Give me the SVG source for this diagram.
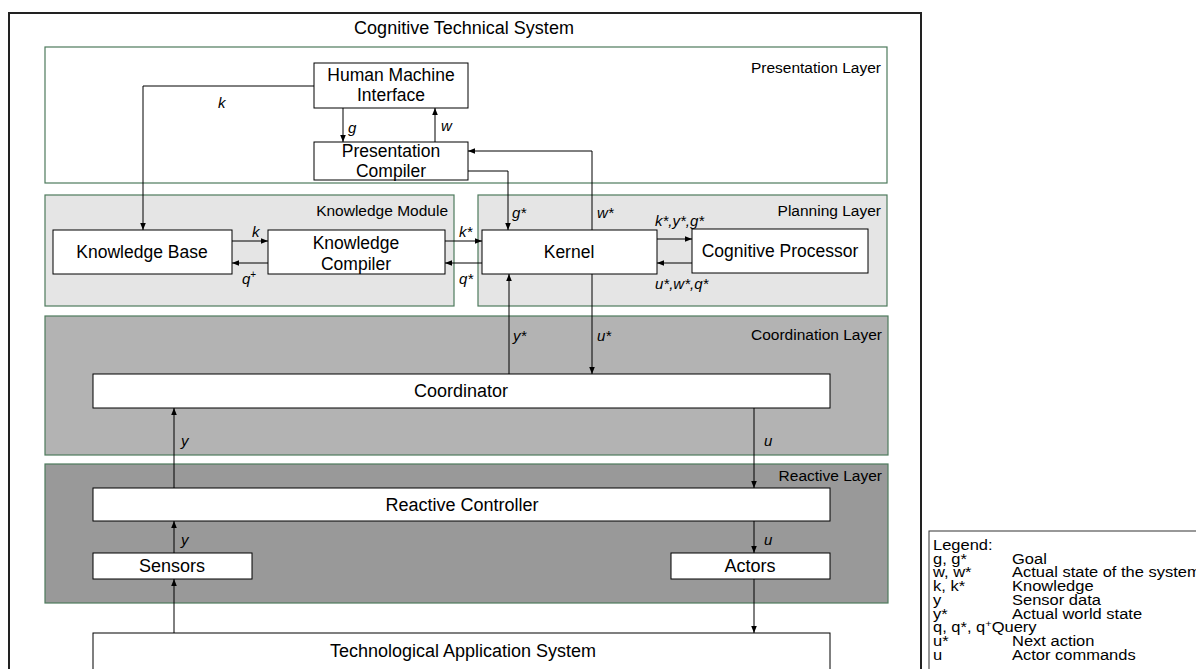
<svg xmlns="http://www.w3.org/2000/svg" width="1196" height="669" viewBox="0 0 1196 669">
<style>
text{font-family:"Liberation Sans",Arial,sans-serif;fill:#000}
.t{font-size:17.5px;text-anchor:middle}
.tl{font-size:18px;text-anchor:middle}
.lay{font-size:15.5px;text-anchor:end}
.v{font-size:15px;font-style:italic}
.box{fill:#fff;stroke:#000;stroke-width:1}
.layer{stroke:#4d7a5c;stroke-width:1.2}
.c{fill:none;stroke:#000;stroke-width:1;marker-end:url(#ah)}
.lg{font-size:16.5px}
</style>
<defs>
<marker id="ah" viewBox="0 0 10 10" refX="10" refY="5" markerWidth="7" markerHeight="7" markerUnits="userSpaceOnUse" orient="auto">
<path d="M0,1 L10,5 L0,9 z" fill="#000"/>
</marker>
</defs>
<rect width="1196" height="669" fill="#fff"/>
<g id="frame">
<rect x="9" y="13" width="912" height="670" fill="#fff" stroke="#222" stroke-width="2"/>
<text x="464" y="34" style="font-size:18px;text-anchor:middle">Cognitive Technical System</text>
</g>
<g id="presentation-layer">
<rect class="layer" x="45" y="47" width="842" height="136" fill="#fff"/>
<text class="lay" x="881" y="73">Presentation Layer</text>
</g>
<g id="knowledge-module">
<rect class="layer" x="45" y="195" width="409" height="111" fill="#e5e5e5"/>
<text class="lay" x="448" y="216">Knowledge Module</text>
</g>
<g id="planning-layer">
<rect class="layer" x="478" y="195" width="409" height="111" fill="#e5e5e5"/>
<text class="lay" x="881" y="216">Planning Layer</text>
</g>
<g id="coordination-layer">
<rect class="layer" x="45" y="316" width="843" height="139" fill="#b3b3b3"/>
<text class="lay" x="882" y="340">Coordination Layer</text>
</g>
<g id="reactive-layer">
<rect class="layer" x="45" y="464" width="843" height="139" fill="#999"/>
<text class="lay" x="882" y="481">Reactive Layer</text>
</g>
<g id="hmi">
<rect class="box" x="314" y="63" width="154" height="45"/>
<text class="t" x="391" y="81">Human Machine</text>
<text class="t" x="391" y="101">Interface</text>
</g>
<g id="presentation-compiler">
<rect class="box" x="314" y="142" width="154" height="38"/>
<text class="t" x="391" y="157">Presentation</text>
<text class="t" x="391" y="177">Compiler</text>
</g>
<g id="knowledge-base">
<rect class="box" x="53" y="230" width="179" height="44"/>
<text class="t" x="142" y="258">Knowledge Base</text>
</g>
<g id="knowledge-compiler">
<rect class="box" x="268" y="230" width="177" height="44"/>
<text class="t" x="356" y="249">Knowledge</text>
<text class="t" x="356" y="270">Compiler</text>
</g>
<g id="kernel">
<rect class="box" x="482" y="230" width="175" height="44"/>
<text class="t" x="569" y="258">Kernel</text>
</g>
<g id="cognitive-processor">
<rect class="box" x="692" y="229" width="176" height="44"/>
<text class="t" x="780" y="257">Cognitive Processor</text>
</g>
<g id="coordinator">
<rect class="box" x="93" y="374" width="737" height="34"/>
<text class="tl" x="461" y="397">Coordinator</text>
</g>
<g id="reactive-controller">
<rect class="box" x="93" y="488" width="737" height="33"/>
<text class="tl" x="462" y="511">Reactive Controller</text>
</g>
<g id="sensors">
<rect class="box" x="93" y="553" width="159" height="26"/>
<text class="tl" x="172" y="572">Sensors</text>
</g>
<g id="actors">
<rect class="box" x="671" y="553" width="159" height="26"/>
<text class="tl" x="750" y="572">Actors</text>
</g>
<g id="technological-application-system">
<rect class="box" x="93" y="633" width="737" height="50"/>
<text class="tl" x="463" y="657">Technological Application System</text>
</g>
<g id="connectors">
<path class="c" d="M314,86 H143 V230"/>
<path class="c" d="M343,108 V142"/>
<path class="c" d="M435,142 V108"/>
<path class="c" d="M592,230 V151 H468"/>
<path class="c" d="M468,171 H508 V230"/>
<path class="c" d="M232,241 H268"/>
<path class="c" d="M268,263 H232"/>
<path class="c" d="M445,241 H482"/>
<path class="c" d="M482,263 H445"/>
<path class="c" d="M657,239 H692"/>
<path class="c" d="M692,263 H657"/>
<path class="c" d="M509,374 V274"/>
<path class="c" d="M592,274 V374"/>
<path class="c" d="M174,488 V408"/>
<path class="c" d="M754,408 V488"/>
<path class="c" d="M174,553 V521"/>
<path class="c" d="M754,521 V553"/>
<path class="c" d="M174,633 V579"/>
<path class="c" d="M754,579 V633"/>
<text class="v" x="218" y="108">k</text>
<text class="v" x="348" y="133">g</text>
<text class="v" x="441" y="131">w</text>
<text class="v" x="512" y="218">g*</text>
<text class="v" x="597" y="218">w*</text>
<text class="v" x="252" y="237">k</text>
<text class="v" x="242" y="284">q<tspan dy="-6" font-size="10" font-style="normal">+</tspan></text>
<text class="v" x="459" y="237">k*</text>
<text class="v" x="459" y="284">q*</text>
<text class="v" x="655" y="226">k*,y*,g*</text>
<text class="v" x="655" y="289">u*,w*,q*</text>
<text class="v" x="513" y="341">y*</text>
<text class="v" x="597" y="341">u*</text>
<text class="v" x="181" y="446">y</text>
<text class="v" x="764" y="446">u</text>
<text class="v" x="181" y="545">y</text>
<text class="v" x="764" y="545">u</text>
</g>
<g id="legend">
<rect x="929" y="531" width="290" height="160" fill="#fff" stroke="#333" stroke-width="1"/>
<g transform="translate(0,531) scale(1,0.85)">
<text class="lg" x="933" y="22.4">Legend:</text>
<text class="lg" x="933" y="38.5">g, g*</text><text class="lg" x="1012" y="38.5">Goal</text>
<text class="lg" x="933" y="54.7">w, w*</text><text class="lg" x="1012" y="54.7">Actual state of the system</text>
<text class="lg" x="933" y="70.9">k, k*</text><text class="lg" x="1012" y="70.9">Knowledge</text>
<text class="lg" x="933" y="87.1">y</text><text class="lg" x="1012" y="87.1">Sensor data</text>
<text class="lg" x="933" y="103.2">y*</text><text class="lg" x="1012" y="103.2">Actual world state</text>
<text class="lg" x="933" y="119.4">q, q*, q<tspan dy="-6" font-size="11">+</tspan><tspan dy="6">Query</tspan></text>
<text class="lg" x="933" y="135.6">u*</text><text class="lg" x="1012" y="135.6">Next action</text>
<text class="lg" x="933" y="151.8">u</text><text class="lg" x="1012" y="151.8">Actor commands</text>
</g>
</g>
</svg>
